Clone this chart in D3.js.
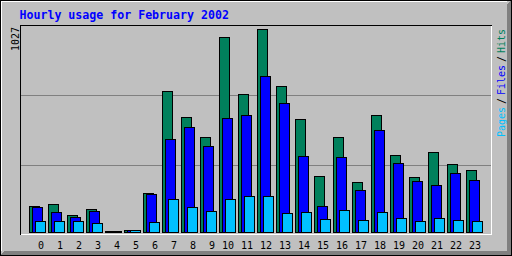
<!DOCTYPE html>
<html><head><meta charset="utf-8">
<script src="https://cdn.jsdelivr.net/npm/d3@7"></script>
<style>html,body{margin:0;padding:0;background:#fff}svg{display:block}</style>
</head><body>
<script>
const hours = ["0","1","2","3","4","5","6","7","8","9","10","11","12","13","14","15","16","17","18","19","20","21","22","23"];
const hits  = [131,142,86,116,6,12,197,713,580,480,986,698,1027,739,572,283,480,253,592,390,278,405,344,314];
const files = [126,101,76,106,5,11,192,470,531,435,577,592,789,653,385,132,379,212,516,349,258,238,298,263];
const pages = [56,56,56,45,5,10,51,167,126,106,167,182,182,96,101,66,111,61,101,71,56,71,61,56];
const maxLabel = "1027";
const title = "Hourly usage for February 2002";

const W = 512, H = 256;
const C = {bg:"#c0c0c0", dk:"#808080", hits:"#00805c", files:"#0000ff", pages:"#00c0ff", title:"#0000ff"};
const mono = "'DejaVu Sans Mono', 'Liberation Mono', monospace";

const svg = d3.select("body").append("svg").attr("width", W).attr("height", H)
  .attr("shape-rendering","crispEdges");

// frame
svg.append("rect").attr("x",0).attr("y",0).attr("width",W).attr("height",H).attr("fill",C.bg);
for (let i=0;i<5;i++){
  svg.append("line").attr("x1",511-i+0.5).attr("y1",i).attr("x2",511-i+0.5).attr("y2",256).attr("stroke",C.dk);
  svg.append("line").attr("x1",i).attr("y1",255-i+0.5).attr("x2",512).attr("y2",255-i+0.5).attr("stroke",C.dk);
}
svg.append("rect").attr("x",0.5).attr("y",0.5).attr("width",511).attr("height",255).attr("fill","none").attr("stroke","#000");
svg.append("line").attr("x1",1).attr("y1",1.5).attr("x2",507).attr("y2",1.5).attr("stroke","#fff");
svg.append("line").attr("x1",1.5).attr("y1",1).attr("x2",1.5).attr("y2",251).attr("stroke","#fff");

// scales
const x = d3.scaleLinear().domain([0,23]).range([29, 29+19*23]);
const y = d3.scaleLinear().domain([0, +maxLabel]).range([232, 29]);
const py = v => Math.round(y(v));

// grid lines
[95,165].forEach(g=>{
  svg.append("line").attr("x1",21).attr("x2",491).attr("y1",g+0.5).attr("y2",g+0.5).attr("stroke",C.dk);
});

// plot frame
svg.append("line").attr("x1",20).attr("x2",492).attr("y1",25.5).attr("y2",25.5).attr("stroke","#000");
svg.append("line").attr("x1",20.5).attr("x2",20.5).attr("y1",25).attr("y2",235).attr("stroke","#000");
svg.append("line").attr("x1",21).attr("x2",492).attr("y1",234.5).attr("y2",234.5).attr("stroke","#fff");
svg.append("line").attr("x1",491.5).attr("x2",491.5).attr("y1",26).attr("y2",235).attr("stroke","#fff");

// bars
const series = [{v:hits,c:C.hits,off:0},{v:files,c:C.files,off:3},{v:pages,c:C.pages,off:6}];
series.forEach(s=>{
  svg.append("g").selectAll("rect").data(s.v).join("rect")
    .attr("x",(d,i)=>x(i)+s.off+0.5)
    .attr("y",d=>py(d)+0.5)
    .attr("width",10)
    .attr("height",d=>232-py(d))
    .attr("fill",s.c).attr("stroke","#000").attr("stroke-width",1);
});

// hour labels
svg.append("g").selectAll("text").data(hours).join("text")
  .attr("x",(d,i)=>x(i)+15)
  .attr("y",249)
  .attr("text-anchor","end")
  .attr("font-family",mono).attr("font-size",10).attr("fill","#000")
  .text(d=>d);

// title
svg.append("text").attr("x",19.5).attr("y",19).attr("font-family",mono).attr("font-weight","bold")
  .attr("font-size",11.6).attr("fill",C.title).text(title);

// max label
svg.append("text").attr("transform","translate(19,51) rotate(-90)")
  .attr("font-family",mono).attr("font-size",10).attr("fill","#000").text(maxLabel);

// legend
const legend = [{t:"Pages",c:C.pages,y:137},{t:"/",c:"#000",y:104},{t:"Files",c:C.files,y:95},{t:"/",c:"#000",y:62},{t:"Hits",c:C.hits,y:53}];
svg.append("g").selectAll("text").data(legend).join("text")
  .attr("transform",d=>`translate(504.5,${d.y}) rotate(-90)`)
  .attr("font-family",mono).attr("font-size",10).attr("fill",d=>d.c).text(d=>d.t);
</script>
</body></html>
